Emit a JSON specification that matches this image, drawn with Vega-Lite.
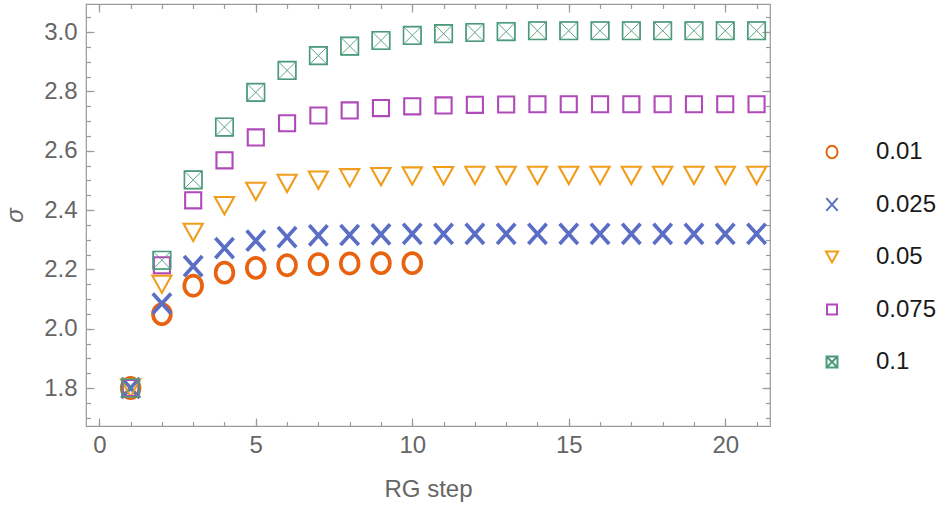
{
  "$schema": "https://vega.github.io/schema/vega-lite/v6.json",
  "width": 684,
  "height": 422,
  "autosize": {"type": "none"},
  "padding": {"left": 86, "top": 4, "right": 177, "bottom": 81},
  "background": "white",
  "config": {
    "font": "Liberation Sans",
    "view": {"stroke": "#9a9a9a", "strokeWidth": 1.2},
    "axis": {"domain": false, "grid": false, "tickColor": "#9a9a9a", "tickWidth": 1.2, "labelColor": "#666666", "titleColor": "#666666", "labelFontSize": 24, "titleFontSize": 24, "titleFontWeight": "normal", "labelFont": "Liberation Sans", "titleFont": "Liberation Sans"},
    "legend": {"orient": "none", "legendX": 734, "legendY": 136, "labelFontSize": 24, "labelColor": "#1a1a1a", "labelFont": "Liberation Sans", "symbolSize": 225, "symbolStrokeWidth": 2, "rowPadding": 28.5, "labelOffset": 32, "padding": 0}
  },
  "datasets": {
    "d": [
      {"series": "0.01", "step": 1, "sigma": 1.8},
      {"series": "0.01", "step": 2, "sigma": 2.049},
      {"series": "0.01", "step": 3, "sigma": 2.145},
      {"series": "0.01", "step": 4, "sigma": 2.189},
      {"series": "0.01", "step": 5, "sigma": 2.205},
      {"series": "0.01", "step": 6, "sigma": 2.214},
      {"series": "0.01", "step": 7, "sigma": 2.218},
      {"series": "0.01", "step": 8, "sigma": 2.22},
      {"series": "0.01", "step": 9, "sigma": 2.221},
      {"series": "0.01", "step": 10, "sigma": 2.221},
      {"series": "0.025", "step": 1, "sigma": 1.8},
      {"series": "0.025", "step": 2, "sigma": 2.085},
      {"series": "0.025", "step": 3, "sigma": 2.211},
      {"series": "0.025", "step": 4, "sigma": 2.272},
      {"series": "0.025", "step": 5, "sigma": 2.297},
      {"series": "0.025", "step": 6, "sigma": 2.309},
      {"series": "0.025", "step": 7, "sigma": 2.315},
      {"series": "0.025", "step": 8, "sigma": 2.316},
      {"series": "0.025", "step": 9, "sigma": 2.318},
      {"series": "0.025", "step": 10, "sigma": 2.32},
      {"series": "0.025", "step": 11, "sigma": 2.32},
      {"series": "0.025", "step": 12, "sigma": 2.32},
      {"series": "0.025", "step": 13, "sigma": 2.32},
      {"series": "0.025", "step": 14, "sigma": 2.32},
      {"series": "0.025", "step": 15, "sigma": 2.32},
      {"series": "0.025", "step": 16, "sigma": 2.32},
      {"series": "0.025", "step": 17, "sigma": 2.32},
      {"series": "0.025", "step": 18, "sigma": 2.32},
      {"series": "0.025", "step": 19, "sigma": 2.32},
      {"series": "0.025", "step": 20, "sigma": 2.32},
      {"series": "0.025", "step": 21, "sigma": 2.32},
      {"series": "0.05", "step": 1, "sigma": 1.8},
      {"series": "0.05", "step": 2, "sigma": 2.15},
      {"series": "0.05", "step": 3, "sigma": 2.325},
      {"series": "0.05", "step": 4, "sigma": 2.415},
      {"series": "0.05", "step": 5, "sigma": 2.463},
      {"series": "0.05", "step": 6, "sigma": 2.49},
      {"series": "0.05", "step": 7, "sigma": 2.501},
      {"series": "0.05", "step": 8, "sigma": 2.509},
      {"series": "0.05", "step": 9, "sigma": 2.513},
      {"series": "0.05", "step": 10, "sigma": 2.515},
      {"series": "0.05", "step": 11, "sigma": 2.516},
      {"series": "0.05", "step": 12, "sigma": 2.517},
      {"series": "0.05", "step": 13, "sigma": 2.517},
      {"series": "0.05", "step": 14, "sigma": 2.517},
      {"series": "0.05", "step": 15, "sigma": 2.517},
      {"series": "0.05", "step": 16, "sigma": 2.517},
      {"series": "0.05", "step": 17, "sigma": 2.517},
      {"series": "0.05", "step": 18, "sigma": 2.517},
      {"series": "0.05", "step": 19, "sigma": 2.517},
      {"series": "0.05", "step": 20, "sigma": 2.517},
      {"series": "0.05", "step": 21, "sigma": 2.517},
      {"series": "0.075", "step": 1, "sigma": 1.8},
      {"series": "0.075", "step": 2, "sigma": 2.214},
      {"series": "0.075", "step": 3, "sigma": 2.433},
      {"series": "0.075", "step": 4, "sigma": 2.568},
      {"series": "0.075", "step": 5, "sigma": 2.645},
      {"series": "0.075", "step": 6, "sigma": 2.693},
      {"series": "0.075", "step": 7, "sigma": 2.719},
      {"series": "0.075", "step": 8, "sigma": 2.736},
      {"series": "0.075", "step": 9, "sigma": 2.744},
      {"series": "0.075", "step": 10, "sigma": 2.75},
      {"series": "0.075", "step": 11, "sigma": 2.753},
      {"series": "0.075", "step": 12, "sigma": 2.755},
      {"series": "0.075", "step": 13, "sigma": 2.756},
      {"series": "0.075", "step": 14, "sigma": 2.757},
      {"series": "0.075", "step": 15, "sigma": 2.757},
      {"series": "0.075", "step": 16, "sigma": 2.757},
      {"series": "0.075", "step": 17, "sigma": 2.757},
      {"series": "0.075", "step": 18, "sigma": 2.757},
      {"series": "0.075", "step": 19, "sigma": 2.757},
      {"series": "0.075", "step": 20, "sigma": 2.757},
      {"series": "0.075", "step": 21, "sigma": 2.757},
      {"series": "0.1", "step": 1, "sigma": 1.8},
      {"series": "0.1", "step": 2, "sigma": 2.231},
      {"series": "0.1", "step": 3, "sigma": 2.502},
      {"series": "0.1", "step": 4, "sigma": 2.68},
      {"series": "0.1", "step": 5, "sigma": 2.797},
      {"series": "0.1", "step": 6, "sigma": 2.871},
      {"series": "0.1", "step": 7, "sigma": 2.921},
      {"series": "0.1", "step": 8, "sigma": 2.953},
      {"series": "0.1", "step": 9, "sigma": 2.972},
      {"series": "0.1", "step": 10, "sigma": 2.989},
      {"series": "0.1", "step": 11, "sigma": 2.995},
      {"series": "0.1", "step": 12, "sigma": 2.999},
      {"series": "0.1", "step": 13, "sigma": 3.002},
      {"series": "0.1", "step": 14, "sigma": 3.005},
      {"series": "0.1", "step": 15, "sigma": 3.005},
      {"series": "0.1", "step": 16, "sigma": 3.005},
      {"series": "0.1", "step": 17, "sigma": 3.005},
      {"series": "0.1", "step": 18, "sigma": 3.005},
      {"series": "0.1", "step": 19, "sigma": 3.005},
      {"series": "0.1", "step": 20, "sigma": 3.005},
      {"series": "0.1", "step": 21, "sigma": 3.005}
    ]
  },
  "data": {"name": "d"},
  "layer": [
    {
      "transform": [{"filter": {"field": "series", "oneOf": ["0.01", "0.025"]}}],
      "mark": {"type": "point", "filled": false, "opacity": 1, "size": 576, "strokeWidth": 3.7},
      "encoding": {
        "x": {"field": "step", "type": "quantitative", "scale": {"domain": [-0.425, 21.43], "nice": false, "zero": false},
              "axis": {"orient": "bottom", "values": [0, 5, 10, 15, 20], "format": "d", "ticks": false, "labelPadding": 7, "title": "RG step", "titlePadding": 20}},
        "y": {"field": "sigma", "type": "quantitative", "scale": {"domain": [1.672, 3.095], "nice": false, "zero": false},
              "axis": {"orient": "left", "values": [1.8, 2.0, 2.2, 2.4, 2.6, 2.8, 3.0], "format": ".1f", "ticks": false, "labelPadding": 9, "title": "σ", "titleFontStyle": "italic", "titlePadding": 16}},
        "color": {"field": "series", "type": "nominal",
                  "scale": {"domain": ["0.01", "0.025", "0.05", "0.075", "0.1"], "range": ["#e8620f", "#5a6ec6", "#f19d1c", "#b04ab8", "#4d9a7b"]},
                  "legend": {"title": null}},
        "shape": {"field": "series", "type": "nominal",
                  "scale": {"domain": ["0.01", "0.025", "0.05", "0.075", "0.1"],
                            "range": ["M0,-0.84A0.74,0.84 0 1,1 0,0.84A0.74,0.84 0 1,1 0,-0.84Z",
                                      "M-0.76,-0.84L0.76,0.84M0.76,-0.84L-0.76,0.84",
                                      "M-0.8,-0.72L0.8,-0.72L0,0.72Z",
                                      "M-0.67,-0.67L0.67,-0.67L0.67,0.67L-0.67,0.67Z",
                                      "M-0.73,-0.73L0.73,-0.73L0.73,0.73L-0.73,0.73ZM-0.73,-0.73L0.73,0.73M0.73,-0.73L-0.73,0.73"]},
                  "legend": {"title": null}}
      }
    },
    {
      "transform": [{"filter": {"field": "series", "oneOf": ["0.05", "0.075"]}}],
      "mark": {"type": "point", "filled": false, "opacity": 1, "size": 576, "strokeWidth": 2.1},
      "encoding": {
        "x": {"field": "step", "type": "quantitative", "scale": {"domain": [-0.425, 21.43], "nice": false, "zero": false}, "axis": null},
        "y": {"field": "sigma", "type": "quantitative", "scale": {"domain": [1.672, 3.095], "nice": false, "zero": false}, "axis": null},
        "color": {"field": "series", "type": "nominal", "legend": {"title": null}},
        "shape": {"field": "series", "type": "nominal", "legend": {"title": null}}
      }
    },
    {
      "transform": [{"filter": {"field": "series", "equal": "0.1"}}],
      "mark": {"type": "point", "filled": false, "opacity": 1, "size": 576, "strokeWidth": 0.9},
      "encoding": {
        "x": {"field": "step", "type": "quantitative", "scale": {"domain": [-0.425, 21.43], "nice": false, "zero": false}, "axis": null},
        "y": {"field": "sigma", "type": "quantitative", "scale": {"domain": [1.672, 3.095], "nice": false, "zero": false}, "axis": null},
        "color": {"field": "series", "type": "nominal", "legend": {"title": null}},
        "shape": {"field": "series", "type": "nominal", "legend": {"title": null}}
      }
    },
    {
      "transform": [{"filter": {"field": "series", "equal": "0.1"}}],
      "mark": {"type": "point", "filled": false, "opacity": 1, "size": 576, "strokeWidth": 1.6, "shape": "M-0.73,-0.73L0.73,-0.73L0.73,0.73L-0.73,0.73Z", "color": "#4d9a7b"},
      "encoding": {
        "x": {"field": "step", "type": "quantitative", "scale": {"domain": [-0.425, 21.43], "nice": false, "zero": false}, "axis": null},
        "y": {"field": "sigma", "type": "quantitative", "scale": {"domain": [1.672, 3.095], "nice": false, "zero": false}, "axis": null}
      }
    },
    {
      "mark": {"type": "point", "opacity": 0},
      "encoding": {
        "x": {"field": "step", "type": "quantitative", "scale": {"domain": [-0.425, 21.43], "nice": false, "zero": false},
              "axis": {"orient": "bottom", "values": [0, 5, 10, 15, 20], "labels": false, "tickSize": -8, "title": null}},
        "y": {"field": "sigma", "type": "quantitative", "scale": {"domain": [1.672, 3.095], "nice": false, "zero": false},
              "axis": {"orient": "left", "values": [1.8, 2.0, 2.2, 2.4, 2.6, 2.8, 3.0], "labels": false, "tickSize": -8, "title": null}}
      }
    },
    {
      "mark": {"type": "point", "opacity": 0},
      "encoding": {
        "x": {"field": "step", "type": "quantitative", "scale": {"domain": [-0.425, 21.43], "nice": false, "zero": false},
              "axis": {"orient": "bottom", "values": [0, 1, 2, 3, 4, 5, 6, 7, 8, 9, 10, 11, 12, 13, 14, 15, 16, 17, 18, 19, 20, 21], "labels": false, "tickSize": -4.5, "title": null}},
        "y": {"field": "sigma", "type": "quantitative", "scale": {"domain": [1.672, 3.095], "nice": false, "zero": false},
              "axis": {"orient": "left", "values": [1.7, 1.75, 1.8, 1.85, 1.9, 1.95, 2.0, 2.05, 2.1, 2.15, 2.2, 2.25, 2.3, 2.35, 2.4, 2.45, 2.5, 2.55, 2.6, 2.65, 2.7, 2.75, 2.8, 2.85, 2.9, 2.95, 3.0, 3.05], "labels": false, "tickSize": -4.5, "title": null}}
      }
    },
    {
      "mark": {"type": "point", "opacity": 0},
      "encoding": {
        "x": {"field": "step", "type": "quantitative", "scale": {"domain": [-0.425, 21.43], "nice": false, "zero": false},
              "axis": {"orient": "top", "values": [0, 5, 10, 15, 20], "labels": false, "tickSize": -8, "title": null}},
        "y": {"field": "sigma", "type": "quantitative", "scale": {"domain": [1.672, 3.095], "nice": false, "zero": false},
              "axis": {"orient": "right", "values": [1.8, 2.0, 2.2, 2.4, 2.6, 2.8, 3.0], "labels": false, "tickSize": -8, "title": null}}
      }
    },
    {
      "mark": {"type": "point", "opacity": 0},
      "encoding": {
        "x": {"field": "step", "type": "quantitative", "scale": {"domain": [-0.425, 21.43], "nice": false, "zero": false},
              "axis": {"orient": "top", "values": [0, 1, 2, 3, 4, 5, 6, 7, 8, 9, 10, 11, 12, 13, 14, 15, 16, 17, 18, 19, 20, 21], "labels": false, "tickSize": -4.5, "title": null}},
        "y": {"field": "sigma", "type": "quantitative", "scale": {"domain": [1.672, 3.095], "nice": false, "zero": false},
              "axis": {"orient": "right", "values": [1.7, 1.75, 1.8, 1.85, 1.9, 1.95, 2.0, 2.05, 2.1, 2.15, 2.2, 2.25, 2.3, 2.35, 2.4, 2.45, 2.5, 2.55, 2.6, 2.65, 2.7, 2.75, 2.8, 2.85, 2.9, 2.95, 3.0, 3.05], "labels": false, "tickSize": -4.5, "title": null}}
      }
    }
  ],
  "resolve": {"axis": {"x": "independent", "y": "independent"}}
}
